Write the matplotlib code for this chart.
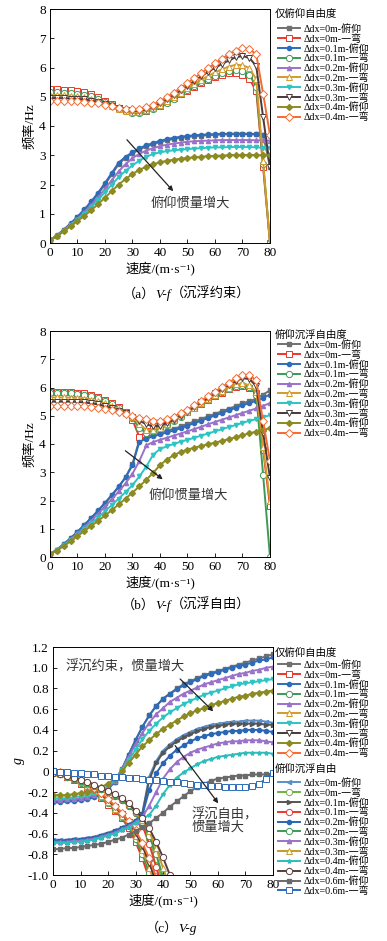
import numpy as np
import matplotlib
matplotlib.use("Agg")
import matplotlib.pyplot as plt

plt.rcParams['font.family'] = ['Liberation Serif', 'Noto Sans CJK SC', 'DejaVu Serif']
plt.rcParams['axes.unicode_minus'] = False

# speed grid (m/s)
V = np.arange(0, 82.5, 2.5)

# (a) 沉浮约束: pitch mode frequency
a_p0 = [0.10, 0.25, 0.45, 0.65, 0.88, 1.12, 1.38, 1.68, 2.00, 2.35, 2.70, 2.92, 3.06, 3.20, 3.30, 3.38, 3.45,
        3.51, 3.56, 3.60, 3.63, 3.65, 3.67, 3.69, 3.70, 3.71, 3.72, 3.72, 3.72, 3.72, 3.71, 3.70, 2.60]
a_p1 = [0.10, 0.26, 0.46, 0.67, 0.90, 1.15, 1.42, 1.72, 2.05, 2.40, 2.75, 2.95, 3.10, 3.24, 3.34, 3.42, 3.49,
        3.55, 3.60, 3.63, 3.66, 3.68, 3.70, 3.71, 3.72, 3.73, 3.73, 3.74, 3.74, 3.73, 3.72, 3.70, 3.65]
a_p2 = [0.10, 0.25, 0.44, 0.63, 0.83, 1.06, 1.30, 1.56, 1.85, 2.15, 2.45, 2.70, 2.90, 3.05, 3.16, 3.24, 3.31,
        3.36, 3.40, 3.43, 3.46, 3.48, 3.49, 3.50, 3.51, 3.52, 3.52, 3.52, 3.52, 3.52, 3.51, 3.51, 3.50]
a_p3 = [0.10, 0.24, 0.42, 0.61, 0.80, 1.00, 1.22, 1.47, 1.74, 2.00, 2.26, 2.47, 2.65, 2.82, 2.95, 3.04, 3.10,
        3.14, 3.17, 3.19, 3.21, 3.23, 3.24, 3.26, 3.27, 3.27, 3.28, 3.28, 3.28, 3.28, 3.27, 3.26, 3.25]
a_p4 = [0.10, 0.23, 0.40, 0.57, 0.75, 0.93, 1.12, 1.33, 1.55, 1.78, 2.00, 2.19, 2.36, 2.50, 2.61, 2.69, 2.76,
        2.81, 2.85, 2.88, 2.91, 2.93, 2.95, 2.97, 2.98, 2.99, 3.00, 3.01, 3.01, 3.01, 3.01, 3.00, 3.00]
# (a) first bending mode
a_b0 = [5.25, 5.25, 5.24, 5.22, 5.20, 5.15, 5.08, 4.98, 4.87, 4.75, 4.63, 4.53, 4.48, 4.48, 4.52, 4.60, 4.70,
        4.82, 4.95, 5.08, 5.21, 5.34, 5.46, 5.57, 5.67, 5.75, 5.80, 5.81, 5.76, 5.60, 5.20, 2.60, 0.00]
a_b1 = [5.15, 5.15, 5.14, 5.13, 5.11, 5.07, 5.01, 4.93, 4.83, 4.72, 4.61, 4.51, 4.46, 4.46, 4.50, 4.58, 4.68,
        4.80, 4.94, 5.08, 5.22, 5.36, 5.49, 5.61, 5.72, 5.81, 5.88, 5.91, 5.88, 5.75, 5.35, 2.70, 0.00]
a_b2 = [5.05, 5.05, 5.05, 5.04, 5.02, 4.99, 4.94, 4.87, 4.79, 4.69, 4.59, 4.51, 4.47, 4.48, 4.53, 4.61, 4.72,
        4.85, 4.99, 5.14, 5.29, 5.44, 5.58, 5.71, 5.83, 5.94, 6.03, 6.09, 6.08, 5.98, 5.60, 2.80, 0.00]
a_b3 = [4.95, 4.95, 4.95, 4.94, 4.93, 4.91, 4.87, 4.82, 4.75, 4.67, 4.60, 4.54, 4.51, 4.52, 4.57, 4.66, 4.77,
        4.91, 5.06, 5.22, 5.38, 5.54, 5.70, 5.85, 5.99, 6.12, 6.24, 6.35, 6.39, 6.33, 6.05, 4.30, 2.60]
a_b4 = [4.85, 4.85, 4.85, 4.85, 4.84, 4.83, 4.80, 4.77, 4.72, 4.67, 4.62, 4.58, 4.57, 4.59, 4.64, 4.73, 4.85,
        4.99, 5.14, 5.30, 5.47, 5.64, 5.81, 5.98, 6.14, 6.30, 6.45, 6.58, 6.66, 6.63, 6.45, 5.10, 3.70]

# (b) 沉浮自由: pitch mode frequency
b_p0 = [0.10, 0.26, 0.45, 0.66, 0.88, 1.12, 1.37, 1.63, 1.90, 2.18, 2.48, 2.83, 3.30, 4.15, 4.25, 4.33, 4.40,
        4.47, 4.54, 4.62, 4.71, 4.80, 4.89, 4.98, 5.07, 5.16, 5.25, 5.34, 5.44, 5.52, 5.60, 5.75, 5.90]
b_p1 = [0.10, 0.26, 0.46, 0.67, 0.90, 1.14, 1.39, 1.65, 1.92, 2.20, 2.50, 2.82, 3.25, 4.08, 4.19, 4.27, 4.34,
        4.41, 4.48, 4.56, 4.65, 4.74, 4.83, 4.92, 5.01, 5.10, 5.19, 5.28, 5.37, 5.45, 5.53, 5.64, 5.75]
b_p2 = [0.10, 0.25, 0.43, 0.63, 0.84, 1.06, 1.29, 1.53, 1.79, 2.05, 2.32, 2.61, 2.95, 3.40, 3.95, 4.07, 4.15,
        4.22, 4.30, 4.37, 4.45, 4.53, 4.61, 4.70, 4.78, 4.86, 4.94, 5.02, 5.10, 5.18, 5.26, 5.35, 5.45]
b_p3 = [0.10, 0.24, 0.41, 0.60, 0.79, 0.99, 1.19, 1.40, 1.62, 1.84, 2.07, 2.30, 2.55, 2.85, 3.20, 3.62, 3.82,
        3.92, 4.00, 4.08, 4.15, 4.22, 4.30, 4.37, 4.45, 4.52, 4.60, 4.67, 4.75, 4.82, 4.88, 4.95, 5.02]
b_p4 = [0.10, 0.23, 0.39, 0.56, 0.74, 0.92, 1.10, 1.28, 1.47, 1.66, 1.86, 2.07, 2.28, 2.50, 2.73, 2.98, 3.25,
        3.45, 3.60, 3.72, 3.80, 3.87, 3.93, 3.99, 4.05, 4.11, 4.17, 4.24, 4.31, 4.38, 4.44, 4.50, 4.56]
# (b) first bending mode
b_b0 = [5.85, 5.85, 5.85, 5.84, 5.82, 5.79, 5.74, 5.66, 5.56, 5.44, 5.30, 5.12, 4.85, 4.25, 4.45, 4.52, 4.62,
        4.74, 4.87, 5.01, 5.15, 5.29, 5.43, 5.57, 5.70, 5.82, 5.93, 6.02, 6.05, 5.98, 5.80, 3.80, 1.80]
b_b1 = [5.80, 5.80, 5.80, 5.79, 5.77, 5.74, 5.69, 5.62, 5.53, 5.42, 5.29, 5.13, 4.92, 4.55, 4.40, 4.45, 4.55,
        4.68, 4.82, 4.97, 5.12, 5.27, 5.42, 5.57, 5.71, 5.84, 5.96, 6.06, 6.10, 6.02, 5.75, 2.90, 0.00]
b_b2 = [5.65, 5.65, 5.65, 5.64, 5.63, 5.61, 5.57, 5.51, 5.44, 5.35, 5.24, 5.11, 4.95, 4.72, 4.50, 4.50, 4.58,
        4.70, 4.84, 4.99, 5.14, 5.29, 5.45, 5.60, 5.74, 5.88, 6.00, 6.11, 6.15, 6.08, 5.85, 3.90, 2.00]
b_b3 = [5.50, 5.50, 5.50, 5.50, 5.49, 5.47, 5.44, 5.40, 5.34, 5.27, 5.18, 5.08, 4.96, 4.83, 4.70, 4.62, 4.65,
        4.74, 4.86, 5.00, 5.15, 5.31, 5.47, 5.63, 5.79, 5.94, 6.08, 6.22, 6.33, 6.30, 6.05, 4.40, 2.80]
b_b4 = [5.35, 5.35, 5.35, 5.35, 5.35, 5.34, 5.32, 5.29, 5.25, 5.20, 5.14, 5.07, 5.00, 4.93, 4.87, 4.83, 4.83,
        4.88, 4.97, 5.09, 5.22, 5.37, 5.53, 5.69, 5.85, 6.01, 6.17, 6.32, 6.45, 6.45, 6.25, 4.80, 3.40]

# (c) damping, 仅俯仰自由度
c1_p0 = [-0.29, -0.29, -0.28, -0.28, -0.27, -0.26, -0.24, -0.21, -0.17, -0.10, 0.02, 0.16, 0.30, 0.43, 0.54,
         0.63, 0.70, 0.75, 0.80, 0.84, 0.87, 0.90, 0.93, 0.95, 0.97, 0.99, 1.01, 1.03, 1.05, 1.07, 1.09, 1.11, 1.13]
c1_p1 = [-0.30, -0.30, -0.29, -0.29, -0.28, -0.27, -0.25, -0.22, -0.17, -0.10, 0.02, 0.16, 0.30, 0.43, 0.54,
         0.63, 0.70, 0.75, 0.79, 0.83, 0.86, 0.89, 0.92, 0.94, 0.96, 0.98, 1.00, 1.02, 1.03, 1.05, 1.07, 1.08, 1.10]
c1_p2 = [-0.28, -0.28, -0.27, -0.27, -0.26, -0.25, -0.23, -0.20, -0.16, -0.09, 0.02, 0.14, 0.26, 0.37, 0.47,
         0.55, 0.61, 0.67, 0.71, 0.75, 0.78, 0.81, 0.84, 0.86, 0.88, 0.90, 0.92, 0.94, 0.95, 0.97, 0.98, 1.00, 1.01]
c1_p3 = [-0.26, -0.26, -0.26, -0.25, -0.24, -0.23, -0.21, -0.18, -0.14, -0.08, 0.01, 0.11, 0.21, 0.31, 0.39,
         0.46, 0.52, 0.57, 0.61, 0.65, 0.68, 0.71, 0.74, 0.76, 0.78, 0.80, 0.82, 0.84, 0.85, 0.86, 0.87, 0.88, 0.89]
c1_p4 = [-0.23, -0.23, -0.23, -0.22, -0.21, -0.20, -0.18, -0.15, -0.12, -0.07, 0.00, 0.08, 0.16, 0.24, 0.30,
         0.36, 0.41, 0.45, 0.49, 0.53, 0.56, 0.59, 0.61, 0.64, 0.66, 0.68, 0.70, 0.72, 0.73, 0.75, 0.76, 0.77, 0.78]
c1_b0 = [0.00, -0.02, -0.05, -0.08, -0.12, -0.16, -0.21, -0.26, -0.32, -0.38, -0.45, -0.55, -0.68, -0.84, -1.04, -1.30]
c1_b1 = [0.00, -0.02, -0.04, -0.07, -0.11, -0.15, -0.20, -0.25, -0.31, -0.37, -0.44, -0.53, -0.65, -0.80, -0.98, -1.20]
c1_b2 = [0.00, -0.02, -0.04, -0.07, -0.10, -0.14, -0.19, -0.24, -0.30, -0.36, -0.43, -0.51, -0.62, -0.76, -0.93, -1.13]
c1_b3 = [0.00, -0.01, -0.03, -0.06, -0.09, -0.13, -0.17, -0.22, -0.28, -0.34, -0.41, -0.49, -0.59, -0.72, -0.88, -1.07]
c1_b4 = [0.00, -0.01, -0.03, -0.05, -0.08, -0.12, -0.16, -0.21, -0.27, -0.33, -0.40, -0.48, -0.57, -0.69, -0.84,
         -1.02, -1.22]

# (c) damping, 俯仰沉浮自由
c2_p0 = [-0.66, -0.66, -0.66, -0.65, -0.65, -0.64, -0.63, -0.61, -0.59, -0.57, -0.54, -0.51, -0.47, -0.40, -0.05,
         0.10, 0.20, 0.26, 0.31, 0.35, 0.38, 0.41, 0.43, 0.45, 0.46, 0.47, 0.48, 0.48, 0.49, 0.49, 0.49, 0.48, 0.47]
c2_p1 = [-0.67, -0.67, -0.67, -0.66, -0.66, -0.65, -0.64, -0.62, -0.60, -0.58, -0.55, -0.52, -0.48, -0.41, -0.08,
         0.08, 0.18, 0.24, 0.29, 0.33, 0.36, 0.39, 0.41, 0.43, 0.44, 0.45, 0.46, 0.46, 0.46, 0.46, 0.46, 0.45, 0.45]
c2_p2 = [-0.67, -0.67, -0.67, -0.66, -0.66, -0.65, -0.64, -0.62, -0.60, -0.58, -0.55, -0.52, -0.48, -0.42, -0.18,
         -0.02, 0.08, 0.15, 0.21, 0.25, 0.29, 0.32, 0.34, 0.36, 0.37, 0.38, 0.39, 0.39, 0.40, 0.40, 0.40, 0.39, 0.38]
c2_p3 = [-0.68, -0.68, -0.68, -0.67, -0.67, -0.66, -0.65, -0.63, -0.61, -0.59, -0.56, -0.53, -0.49, -0.44, -0.33,
         -0.20, -0.07, 0.02, 0.09, 0.14, 0.18, 0.21, 0.23, 0.25, 0.27, 0.28, 0.29, 0.29, 0.30, 0.30, 0.30, 0.29, 0.28]
c2_p4 = [-0.69, -0.69, -0.69, -0.68, -0.68, -0.67, -0.66, -0.64, -0.62, -0.60, -0.57, -0.54, -0.50, -0.46, -0.42,
         -0.33, -0.22, -0.13, -0.06, -0.01, 0.03, 0.07, 0.10, 0.12, 0.14, 0.15, 0.16, 0.17, 0.18, 0.18, 0.18, 0.18, 0.17]
c2_p5 = [-0.75, -0.75, -0.74, -0.74, -0.73, -0.72, -0.71, -0.70, -0.68, -0.66, -0.64, -0.61, -0.58, -0.54, -0.50,
         -0.45, -0.40, -0.34, -0.29, -0.24, -0.19, -0.15, -0.12, -0.09, -0.07, -0.06, -0.05, -0.04, -0.04, -0.03,
         -0.03, -0.03, -0.02]
c2_b0 = [-0.02, -0.03, -0.05, -0.07, -0.09, -0.11, -0.14, -0.17, -0.20, -0.24, -0.28, -0.33, -0.40, -0.50, -0.65,
         -0.85, -1.08]
c2_b1 = [-0.02, -0.03, -0.05, -0.07, -0.09, -0.11, -0.14, -0.17, -0.20, -0.24, -0.28, -0.33, -0.40, -0.52, -0.70,
         -0.92, -1.15]
c2_b2 = [-0.02, -0.03, -0.05, -0.07, -0.09, -0.11, -0.14, -0.17, -0.20, -0.23, -0.27, -0.32, -0.40, -0.49, -0.62,
         -0.80, -1.02]
c2_b3 = [-0.02, -0.03, -0.04, -0.06, -0.08, -0.10, -0.13, -0.16, -0.19, -0.22, -0.26, -0.31, -0.39, -0.47, -0.58,
         -0.74, -0.93, -1.12]
c2_b4 = [-0.02, -0.03, -0.04, -0.06, -0.08, -0.10, -0.13, -0.16, -0.19, -0.22, -0.26, -0.31, -0.38, -0.45, -0.55,
         -0.68, -0.83, -1.00, -1.18]
c2_b5 = [0.00, -0.01, -0.01, -0.02, -0.02, -0.03, -0.03, -0.04, -0.04, -0.05, -0.05, -0.06, -0.06, -0.07, -0.08,
         -0.08, -0.09, -0.10, -0.10, -0.11, -0.12, -0.13, -0.13, -0.14, -0.14, -0.15, -0.15, -0.15, -0.15, -0.14,
         -0.12, -0.07, -0.02]

dx_names = ['0m', '0.1m', '0.2m', '0.3m', '0.4m']
dx2 = ['0m', '0.1m', '0.2m', '0.3m', '0.4m', '0.6m']
pitch_style = [('#707070', 's'), ('#2e6cb8', 'o'), ('#9a72c9', '^'), ('#2ec4c4', 'v'), ('#8c8a22', 'D')]
bend_style = [('#e8382c', 's'), ('#3c9a55', 'o'), ('#d49a2a', '^'), ('#4a3a3a', 'v'), ('#f26c32', 'D')]
p2_style = [('#5b8fc9', '<'), ('#555555', '>'), ('#2a66b4', 'o'), ('#9a72c9', '^'), ('#2ebcbc', '*'),
            ('#6a6a6a', 's')]
b2_style = [('#6db33f', 'o'), ('#e8382c', 'o'), ('#3c9a55', 'o'), ('#c89a2a', '^'), ('#5a3c3c', 'o'),
            ('#2e6cb8', 's')]

W, H = 387, 941
fig = plt.figure(figsize=(W / 100, H / 100), dpi=100)


def px_axes(l, t, r, b):
    return fig.add_axes([l / W, 1 - b / H, (r - l) / W, (b - t) / H])


def lab(dx, mode):
    return 'Δdx=' + dx + '-' + mode


def filled(ax, x, y, c, m, label):
    ax.plot(x, y, color=c, marker=m, ms=3, lw=1.4, label=label)


def hollow(ax, x, y, c, m, label):
    ax.plot(x, y, color=c, marker=m, ms=4.5, mfc='white', mew=0.7, lw=1.4, label=label)


def style_axes(ax):
    ax.set_xlim(0, 80)
    ax.set_xticks(np.arange(0, 81, 10))
    ax.tick_params(direction='in', labelsize=9.5, length=3, width=0.6, pad=3)
    for s in ax.spines.values():
        s.set_linewidth(0.7)
    ax.set_xlabel('速度/(m·s⁻¹)', fontsize=9.5, labelpad=2)


def caption(xr, yc, head, mid, tail):
    # "(a)" + italic "V-f" + "(...)" chained so the middle part can be italic
    t1 = fig.text(xr / W, 1 - yc / H, head, fontsize=9.5, ha='right', va='baseline')
    t2 = fig.text(0, 0, mid, fontsize=9.5, style='italic', ha='left', va='baseline')
    t3 = fig.text(0, 0, tail, fontsize=9.5, ha='left', va='baseline')
    fig.canvas.draw()
    r = fig.canvas.get_renderer()
    bb1 = t1.get_window_extent(r)
    t2.set_position((bb1.x1 / W, t1.get_position()[1]))
    bb2 = t2.get_window_extent(r)
    t3.set_position((bb2.x1 / W, t1.get_position()[1]))


leg_kw = dict(loc='upper left', frameon=False, fontsize=7.2, borderpad=0, borderaxespad=0,
              handlelength=2.2, handletextpad=0.4, labelspacing=0.0, numpoints=1,
              bbox_transform=fig.transFigure)


def legend_block(ax, handles, labels, title, y_title, y_top):
    fig.text(275 / W, 1 - y_title / H, title, fontsize=7.5, ha='left', va='center')
    leg = ax.legend(handles, labels, bbox_to_anchor=(278 / W, 1 - y_top / H), **leg_kw)
    return leg


def freq_panel(ax, P, B, title, arrow, text, y_title, y_top):
    for i in range(5):
        filled(ax, V, P[i], pitch_style[i][0], pitch_style[i][1], lab(dx_names[i], '俯仰'))
        hollow(ax, V, B[i], bend_style[i][0], bend_style[i][1], lab(dx_names[i], '一弯'))
    style_axes(ax)
    ax.set_ylim(0, 8)
    ax.set_yticks(np.arange(0, 9, 1))
    ax.set_ylabel('频率/Hz', fontsize=9.5, labelpad=2)
    ax.annotate('', xy=arrow[1], xytext=arrow[0],
                arrowprops=dict(arrowstyle='-|>', color='#222222', lw=0.9, mutation_scale=7))
    ax.text(text[0], text[1], '俯仰惯量增大', fontsize=9.5, color='#333333', ha='center', va='center')
    h, l = ax.get_legend_handles_labels()
    legend_block(ax, h, l, title, y_title, y_top)


ax_a = px_axes(50, 9, 270, 243)
freq_panel(ax_a, [a_p0, a_p1, a_p2, a_p3, a_p4], [a_b0, a_b1, a_b2, a_b3, a_b4], '仅俯仰自由度',
           ((27.3, 3.6), (45.5, 1.7)), (51, 1.37), 14, 24)

ax_b = px_axes(50, 331, 270, 557)
freq_panel(ax_b, [b_p0, b_p1, b_p2, b_p3, b_p4], [b_b0, b_b1, b_b2, b_b3, b_b4], '俯仰沉浮自由度',
           ((26.6, 3.82), (41.8, 2.69)), (50.3, 2.19), 335, 340)

# (c) V-g
ax_c = px_axes(53, 647, 273, 875)
P1 = [c1_p0, c1_p1, c1_p2, c1_p3, c1_p4]
B1 = [c1_b0, c1_b1, c1_b2, c1_b3, c1_b4]
for i in range(5):
    filled(ax_c, V, P1[i], pitch_style[i][0], pitch_style[i][1], lab(dx_names[i], '俯仰'))
    hollow(ax_c, V[:len(B1[i])], B1[i], bend_style[i][0], bend_style[i][1], lab(dx_names[i], '一弯'))
h1, l1 = ax_c.get_legend_handles_labels()

P2 = [c2_p0, c2_p1, c2_p2, c2_p3, c2_p4, c2_p5]
B2 = [c2_b0, c2_b1, c2_b2, c2_b3, c2_b4, c2_b5]
for i in range(6):
    filled(ax_c, V, P2[i], p2_style[i][0], p2_style[i][1], lab(dx2[i], '俯仰'))
    hollow(ax_c, V[:len(B2[i])], B2[i], b2_style[i][0], b2_style[i][1], lab(dx2[i], '一弯'))
h_all, l_all = ax_c.get_legend_handles_labels()
h2, l2 = h_all[len(h1):], l_all[len(l1):]

style_axes(ax_c)
ax_c.set_ylim(-1.0, 1.2)
yt = np.round(np.arange(-1.0, 1.21, 0.2), 1)
ax_c.set_yticks(yt)
ax_c.set_yticklabels(['0' if v == 0 else f'{v:.1f}' for v in yt])
ax_c.set_ylabel('g', fontsize=10, style='italic', labelpad=2)
ax_c.annotate('', xy=(59, 0.56), xytext=(45.5, 0.91),
              arrowprops=dict(arrowstyle='-|>', color='#222222', lw=0.9, mutation_scale=7))
ax_c.annotate('', xy=(60.7, -0.33), xytext=(43.8, 0.27),
              arrowprops=dict(arrowstyle='-|>', color='#222222', lw=0.9, mutation_scale=7))
ax_c.text(26.2, 1.01, '浮沉约束，惯量增大', fontsize=9.5, color='#333333', ha='center', va='center')
ax_c.text(50.5, -0.48, '浮沉自由，\n惯量增大', fontsize=9.5, color='#333333', ha='left', va='center',
          linespacing=1.0)

leg1 = legend_block(ax_c, h1, l1, '仅俯仰自由度', 653, 660)
ax_c.add_artist(leg1)
legend_block(ax_c, h2, l2, '俯仰沉浮自由', 769, 778)

caption(155, 298, '（a）', 'V-f', '（沉浮约束）')
caption(155, 609, '（b）', 'V-f', '（沉浮自由）')
caption(178, 932, '（c）', 'V-g', '')

fig.savefig('out.png', dpi=100)
